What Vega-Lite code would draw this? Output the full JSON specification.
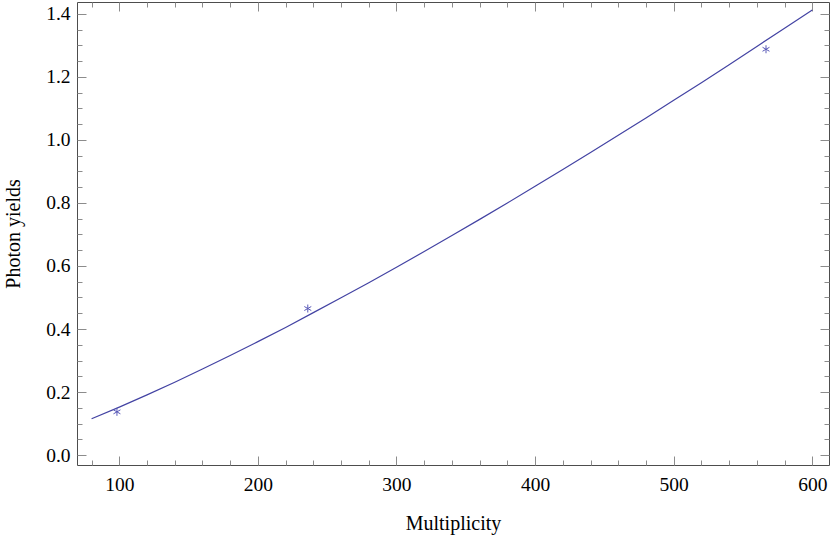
{
  "$schema": "https://vega.github.io/schema/vega-lite/v6.json",
  "width": 752,
  "height": 463,
  "autosize": {"type": "none"},
  "padding": {"left": 77, "top": 2, "right": 1, "bottom": 75},
  "background": "white",
  "datasets": {
    "fit": [
      {"m": 80, "y": 0.115}, {"m": 100, "y": 0.152}, {"m": 120, "y": 0.191},
      {"m": 140, "y": 0.231}, {"m": 160, "y": 0.273}, {"m": 180, "y": 0.316},
      {"m": 200, "y": 0.36}, {"m": 220, "y": 0.405}, {"m": 240, "y": 0.452},
      {"m": 260, "y": 0.499}, {"m": 280, "y": 0.547}, {"m": 300, "y": 0.596},
      {"m": 320, "y": 0.646}, {"m": 340, "y": 0.697}, {"m": 360, "y": 0.748},
      {"m": 380, "y": 0.8}, {"m": 400, "y": 0.853}, {"m": 420, "y": 0.906},
      {"m": 440, "y": 0.96}, {"m": 460, "y": 1.015}, {"m": 480, "y": 1.07},
      {"m": 500, "y": 1.126}, {"m": 520, "y": 1.182}, {"m": 540, "y": 1.239},
      {"m": 560, "y": 1.297}, {"m": 580, "y": 1.355}, {"m": 600, "y": 1.413}
    ],
    "measured": [
      {"m": 98.3, "y": 0.137},
      {"m": 236, "y": 0.465},
      {"m": 566.6, "y": 1.288}
    ]
  },
  "layer": [
    {
      "data": {"name": "fit"},
      "mark": {"type": "line", "color": "#4343a3", "strokeWidth": 1.2},
      "encoding": {
        "x": {
          "field": "m", "type": "quantitative",
          "scale": {"domain": [69.48, 612.05], "nice": false, "zero": false},
          "axis": {
            "orient": "bottom",
            "title": "Multiplicity",
            "values": [80, 100, 120, 140, 160, 180, 200, 220, 240, 260, 280, 300, 320, 340, 360, 380, 400, 420, 440, 460, 480, 500, 520, 540, 560, 580, 600],
            "labelExpr": "datum.value % 100 === 0 ? datum.label : ''",
            "tickSize": {"condition": {"test": "datum.value % 100 === 0", "value": -9}, "value": -5},
            "labelPadding": 19,
            "titlePadding": 16
          }
        },
        "y": {
          "field": "y", "type": "quantitative",
          "scale": {"domain": [-0.0317, 1.438], "nice": false, "zero": false},
          "axis": {
            "orient": "left",
            "title": "Photon yields",
            "format": ".1f",
            "values": [0, 0.05, 0.1, 0.15, 0.2, 0.25, 0.3, 0.35, 0.4, 0.45, 0.5, 0.55, 0.6, 0.65, 0.7, 0.75, 0.8, 0.85, 0.9, 0.95, 1.0, 1.05, 1.1, 1.15, 1.2, 1.25, 1.3, 1.35, 1.4],
            "labelExpr": "round(datum.value * 100) % 20 === 0 ? datum.label : ''",
            "tickSize": {"condition": {"test": "round(datum.value * 100) % 20 === 0", "value": -9}, "value": -5},
            "labelPadding": 16,
            "titlePadding": 22
          }
        }
      }
    },
    {
      "data": {"name": "measured"},
      "mark": {
        "type": "point",
        "shape": "M0,-1L0,1M-0.87,-0.5L0.87,0.5M-0.87,0.5L0.87,-0.5",
        "filled": false,
        "size": 64,
        "strokeWidth": 1,
        "color": "#5a5ab8",
        "opacity": 1
      },
      "encoding": {
        "x": {
          "field": "m", "type": "quantitative",
          "axis": {
            "orient": "top",
            "title": null,
            "labels": false,
            "values": [80, 100, 120, 140, 160, 180, 200, 220, 240, 260, 280, 300, 320, 340, 360, 380, 400, 420, 440, 460, 480, 500, 520, 540, 560, 580, 600],
            "tickSize": {"condition": {"test": "datum.value % 100 === 0", "value": -9}, "value": -5}
          }
        },
        "y": {
          "field": "y", "type": "quantitative",
          "axis": {
            "orient": "right",
            "title": null,
            "labels": false,
            "values": [0, 0.05, 0.1, 0.15, 0.2, 0.25, 0.3, 0.35, 0.4, 0.45, 0.5, 0.55, 0.6, 0.65, 0.7, 0.75, 0.8, 0.85, 0.9, 0.95, 1.0, 1.05, 1.1, 1.15, 1.2, 1.25, 1.3, 1.35, 1.4],
            "tickSize": {"condition": {"test": "round(datum.value * 100) % 20 === 0", "value": -9}, "value": -5}
          }
        }
      }
    }
  ],
  "resolve": {"axis": {"x": "independent", "y": "independent"}},
  "config": {
    "view": {"stroke": "#4d4d4d", "strokeWidth": 1},
    "axis": {
      "domain": false,
      "grid": false,
      "tickColor": "#8c8c8c",
      "tickWidth": 1,
      "labelFont": "Liberation Serif",
      "labelFontSize": 19.5,
      "labelColor": "#000000",
      "labelFlush": false,
      "labelOverlap": false,
      "titleFont": "Liberation Serif",
      "titleFontSize": 20,
      "titleFontWeight": "normal",
      "titleColor": "#000000"
    }
  }
}
